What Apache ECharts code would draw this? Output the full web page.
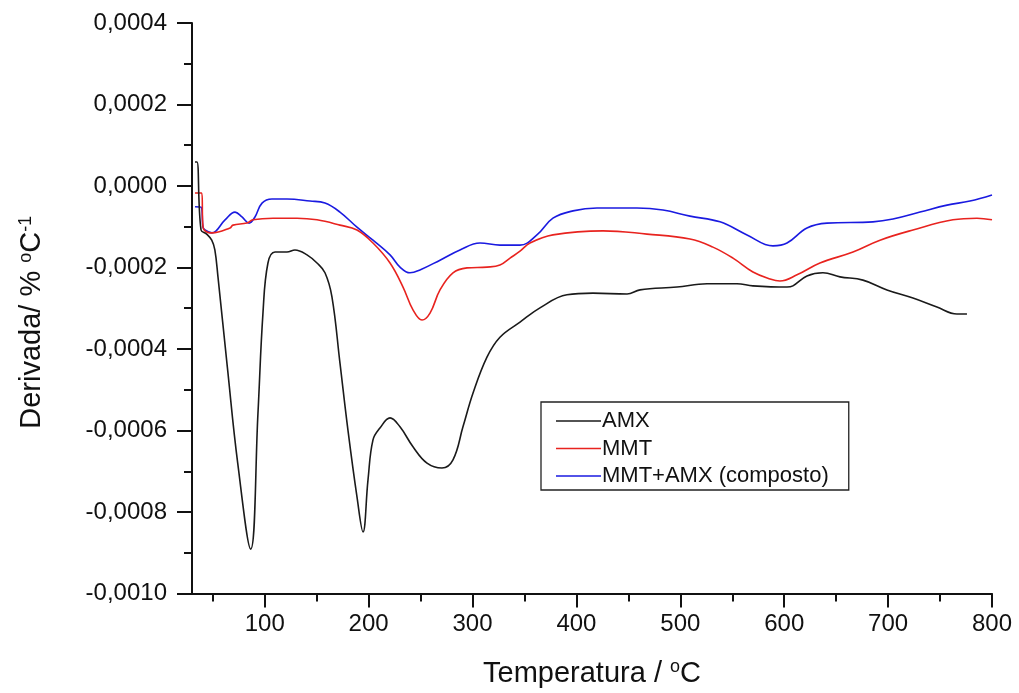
<!DOCTYPE html>
<html>
<head>
<meta charset="utf-8">
<script src="https://cdn.jsdelivr.net/npm/echarts@6/dist/echarts.min.js"></script>
<style>html,body{margin:0;padding:0;background:#fff;}#c{width:1019px;height:693px;}</style>
</head>
<body>
<div id="c"></div>
<script>
// ---- data ----
const seriesNames = ['AMX', 'MMT', 'MMT+AMX (composto)'];
const xMajorTicks = [100, 200, 300, 400, 500, 600, 700, 800];
const xMinorTicks = [50, 150, 250, 350, 450, 550, 650, 750];

const amxT = [32.9, 34.8, 38.7, 44.1, 49, 52, 55, 64, 74, 86.5, 93.5, 98.3, 103.1, 109.9, 121.4, 129.1, 140.7, 150.3, 158, 164.7, 172.4, 180.1, 188.8, 194.6, 199.4, 204.2, 210.9, 220.6, 230.2, 242.7, 256.2, 270.6, 281.2, 290.8, 300.5, 313.9, 326.4, 345.7, 364.9, 390.9, 415.9, 448.7, 461.2, 496.8, 525.7, 554.5, 569.9, 602.7, 608.4, 621.9, 637.3, 653.7, 675.8, 698.9, 723.9, 747, 766.3, 775.9];
const amxD = [0.000059, 0.000059, -0.000108, -0.000118, -0.000133, -0.000157, -0.000223, -0.000444, -0.00068, -0.000891, -0.000557, -0.000312, -0.000189, -0.000162, -0.000162, -0.000157, -0.000169, -0.000189, -0.000213, -0.000272, -0.000434, -0.000599, -0.000763, -0.000849, -0.000721, -0.000623, -0.000594, -0.000569, -0.000591, -0.00064, -0.00068, -0.000692, -0.000672, -0.000591, -0.000508, -0.00042, -0.000371, -0.000334, -0.000299, -0.000267, -0.000263, -0.000265, -0.000255, -0.000248, -0.00024, -0.00024, -0.000245, -0.000248, -0.000245, -0.000221, -0.000213, -0.000223, -0.000231, -0.000255, -0.000275, -0.000297, -0.000314, -0.000314];

const mmtT = [32.9, 39.3, 40.6, 47.3, 49.2, 66.6, 69.5, 82.9, 88.7, 108, 131.1, 150.3, 172.4, 188.8, 204.2, 220.6, 233.1, 242.7, 251.4, 259.1, 268.7, 281.2, 294.7, 313.9, 326.4, 336.1, 345.7, 355.3, 377.4, 425.6, 467.9, 509.3, 531.4, 550.7, 569.9, 586.3, 595.9, 612.3, 634.4, 666.2, 692.2, 723.9, 762.4, 785.5, 800];
const mmtD = [-0.000017, -0.000017, -0.000101, -0.000115, -0.000115, -0.000103, -0.000096, -0.000091, -0.000083, -0.000079, -0.000079, -0.000083, -0.000096, -0.000108, -0.00014, -0.000189, -0.000248, -0.000304, -0.000329, -0.000312, -0.000255, -0.000213, -0.000201, -0.000199, -0.000194, -0.000177, -0.00016, -0.00014, -0.00012, -0.00011, -0.000118, -0.00013, -0.00015, -0.000177, -0.000211, -0.000228, -0.000233, -0.000218, -0.000189, -0.000162, -0.000133, -0.000108, -0.000083, -0.000079, -0.000083];

const compT = [32.9, 38.7, 40.6, 42.5, 49.2, 61.8, 71.4, 78.1, 84.9, 90.6, 97.4, 107, 121.4, 143.6, 158, 172.4, 188.8, 204.2, 220.6, 230.2, 239.8, 249.4, 268.7, 287.9, 307.2, 326.4, 345.7, 362, 377.4, 396.7, 419.8, 458.3, 483.3, 509.3, 538.2, 564.2, 589.2, 602.7, 621.9, 641.2, 685.4, 704.7, 730.7, 756.7, 778.8, 800];
const compD = [-0.000051, -0.000052, -0.000101, -0.000108, -0.000115, -0.000083, -0.000064, -0.000076, -0.000091, -0.000076, -0.000042, -0.000032, -0.000032, -0.000037, -0.000042, -0.000064, -0.000101, -0.000133, -0.000169, -0.000199, -0.000213, -0.000206, -0.000182, -0.000157, -0.00014, -0.000145, -0.000145, -0.00012, -0.000079, -0.000061, -0.000054, -0.000054, -0.000059, -0.000074, -0.000088, -0.00012, -0.000147, -0.00014, -0.000103, -0.000091, -0.000088, -0.000081, -0.000064, -0.000047, -0.000037, -0.000022];

const colors = ['#1a1a1a', '#e8231f', '#1a1ae0'];

function zip(a, b) { return a.map((v, i) => [v, b[i]]); }
const dataSets = [zip(amxT, amxD), zip(mmtT, mmtD), zip(compT, compD)];

const FONT = 'Liberation Sans';
const INK = '#111';
const chart = echarts.init(document.getElementById('c'), null, { renderer: 'canvas' });
chart.setOption({
  animation: false,
  backgroundColor: '#ffffff',
  textStyle: { fontFamily: FONT },
  grid: { left: 192, right: 27, top: 23, bottom: 98 },
  legend: {
    orient: 'vertical',
    left: 541, top: 402,
    padding: [8, 20, 3, 15],
    backgroundColor: '#fff',
    borderColor: '#222', borderWidth: 1.3,
    icon: 'rect',
    itemWidth: 45, itemHeight: 1.6,
    itemGap: 5.5,
    textStyle: { fontSize: 22, lineHeight: 22, color: INK, fontFamily: FONT, padding: [0, 0, 0, -4] },
    data: seriesNames
  },
  xAxis: [{
    type: 'value', min: 30, max: 800,
    name: 'Temperatura / {sup|o}C',
    nameLocation: 'middle', nameGap: 65,
    nameTextStyle: {
      fontSize: 29, color: INK, fontFamily: FONT,
      rich: { sup: { fontSize: 18, verticalAlign: 'top', padding: [0, 0, 12, 0], color: INK, fontFamily: FONT } }
    },
    axisLine: { show: true, onZero: false, lineStyle: { color: INK, width: 2 } },
    axisTick: { show: true, customValues: xMajorTicks, length: 14, lineStyle: { color: INK, width: 2 } },
    axisLabel: { customValues: xMajorTicks, fontSize: 24, color: INK, margin: 19, fontFamily: FONT },
    splitLine: { show: false }
  }, {
    type: 'value', min: 30, max: 800, position: 'bottom',
    axisLine: { show: false, onZero: false },
    axisTick: { show: true, customValues: xMinorTicks, length: 8, lineStyle: { color: INK, width: 2 } },
    axisLabel: { show: false, customValues: xMinorTicks },
    splitLine: { show: false }
  }],
  yAxis: {
    type: 'value', min: -0.001, max: 0.0004, interval: 0.0002,
    name: 'Derivada/ % {sup|o}C{sup|-1}',
    nameLocation: 'middle', nameGap: 145, nameRotate: 90,
    nameTextStyle: {
      fontSize: 29, color: INK, fontFamily: FONT, padding: [0, 28, 0, 0],
      rich: { sup: { fontSize: 18, verticalAlign: 'top', padding: [0, 0, 12, 0], color: INK, fontFamily: FONT } }
    },
    axisLine: { show: true, onZero: false, lineStyle: { color: INK, width: 2 } },
    axisTick: { show: true, length: 15, lineStyle: { color: INK, width: 2 } },
    minorTick: { show: true, splitNumber: 2, length: 8, lineStyle: { color: INK, width: 2 } },
    axisLabel: {
      fontSize: 24, color: INK, margin: 25, fontFamily: FONT,
      formatter: v => { const r = Math.round(v * 1e5) / 1e5; return (r === 0 ? '0.0000' : r.toFixed(4)).replace('.', ','); }
    },
    splitLine: { show: false }
  },
  series: seriesNames.map((n, i) => ({
    name: n, type: 'line', data: dataSets[i],
    xAxisIndex: 0,
    smooth: 0.4, symbol: 'none', showSymbol: false,
    z: 3 - i,
    lineStyle: { color: colors[i], width: 1.6 },
    itemStyle: { color: colors[i] }
  }))
});
</script>
</body>
</html>
